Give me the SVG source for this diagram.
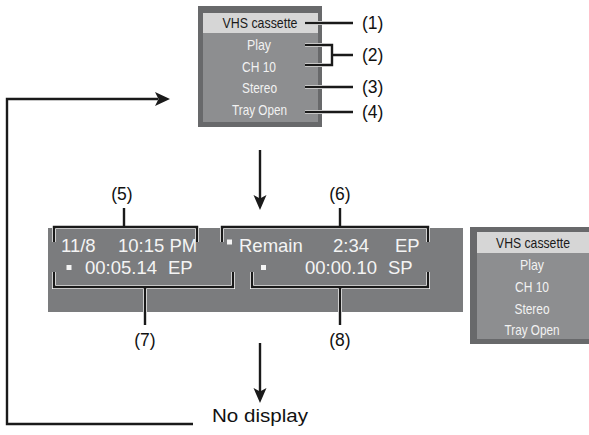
<svg xmlns="http://www.w3.org/2000/svg" width="589" height="435" viewBox="0 0 589 435">
<style>
.frame{fill:#68696b}
.body{fill:#8d8e90}
.head{fill:#d6d6d6}
.panel{fill:#7b7c7e}
.mt{font-family:"Liberation Sans Narrow","Liberation Sans",Arial,sans-serif;font-size:15px;fill:#f2f2f2;text-anchor:middle}
.mh{fill:#1a1a1a}
.pt{font-family:"Liberation Sans",Arial,sans-serif;font-size:18.5px;fill:#f4f4f4}
.lbl{font-family:"Liberation Sans",Arial,sans-serif;font-size:17.5px;fill:#111;text-anchor:middle}
.lbl2{font-family:"Liberation Sans",Arial,sans-serif;font-size:17.5px;fill:#111}
.halo{fill:none;stroke:#ffffff;stroke-width:4}
.ln{fill:none;stroke:#1a1a1a;stroke-width:2.4}
.blt{fill:#f4f4f4}
.ah{fill:#1a1a1a}
</style>

<g id="menu-top">
  <rect class="frame" x="198" y="6" width="124" height="121"/>
  <rect class="body" x="203" y="13" width="115" height="109"/>
  <rect class="head" x="203" y="13" width="115" height="20"/>
  <text class="mt mh" x="260" y="28" textLength="75" lengthAdjust="spacingAndGlyphs">VHS cassette</text>
  <text class="mt" x="259" y="50" textLength="24" lengthAdjust="spacingAndGlyphs">Play</text>
  <text class="mt" x="259" y="71.5" textLength="34" lengthAdjust="spacingAndGlyphs">CH 10</text>
  <text class="mt" x="259.5" y="93" textLength="35" lengthAdjust="spacingAndGlyphs">Stereo</text>
  <text class="mt" x="259.5" y="115" textLength="55" lengthAdjust="spacingAndGlyphs">Tray Open</text>
</g>

<g id="panel">
  <rect class="panel" x="48" y="228" width="415" height="84"/>
  <text class="pt" x="61" y="251.5">11/8</text>
  <text class="pt" x="118" y="251.5">10:15 PM</text>
  <rect class="blt" x="66.5" y="265" width="5" height="5"/>
  <text class="pt" x="85" y="274">00:05.14</text>
  <text class="pt" x="168" y="274">EP</text>
  <rect class="blt" x="227" y="239.5" width="5" height="5"/>
  <text class="pt" x="239" y="251.5">Remain</text>
  <text class="pt" x="333" y="251.5">2:34</text>
  <text class="pt" x="395" y="251.5">EP</text>
  <rect class="blt" x="261" y="265" width="5" height="5"/>
  <text class="pt" x="305" y="274">00:00.10</text>
  <text class="pt" x="388" y="274">SP</text>
</g>

<g id="menu-right">
  <rect class="frame" x="470" y="227" width="119" height="117"/>
  <rect class="body" x="477" y="232" width="112" height="107"/>
  <rect class="head" x="477" y="232" width="112" height="21"/>
  <text class="mt mh" x="533" y="248" textLength="74" lengthAdjust="spacingAndGlyphs">VHS cassette</text>
  <text class="mt" x="532" y="270" textLength="24" lengthAdjust="spacingAndGlyphs">Play</text>
  <text class="mt" x="532" y="292" textLength="34" lengthAdjust="spacingAndGlyphs">CH 10</text>
  <text class="mt" x="532" y="313.5" textLength="35" lengthAdjust="spacingAndGlyphs">Stereo</text>
  <text class="mt" x="532" y="335" textLength="55" lengthAdjust="spacingAndGlyphs">Tray Open</text>
</g>

<g id="no-display">
  <text class="lbl2" x="212" y="422" font-size="20" textLength="96" lengthAdjust="spacingAndGlyphs">No display</text>
</g>

<g id="labels">
  <text class="lbl2" x="362" y="29">(1)</text>
  <text class="lbl2" x="362" y="61">(2)</text>
  <text class="lbl2" x="362" y="93">(3)</text>
  <text class="lbl2" x="362" y="118">(4)</text>
  <text class="lbl" x="122" y="200">(5)</text>
  <text class="lbl" x="340" y="200">(6)</text>
  <text class="lbl" x="145" y="346">(7)</text>
  <text class="lbl" x="340" y="346">(8)</text>
</g>

<g id="connectors">
  <g class="halo">
    <path d="M305 23H353"/>
    <path d="M305 45H332V65H305M332 55H353"/>
    <path d="M305 87H353"/>
    <path d="M305 112H353"/>
    <path d="M54 242V227H197V242M124 227V208"/>
    <path d="M222 242V227H428V242M340 227V208"/>
    <path d="M54 272V287H233V272M145 287V325"/>
    <path d="M252 272V287H428V272M340 287V325"/>
  </g>
  <g class="ln">
    <path d="M305 23H353"/>
    <path d="M305 45H332V65H305M332 55H353"/>
    <path d="M305 87H353"/>
    <path d="M305 112H353"/>
    <path d="M54 242V227H197V242M124 227V208"/>
    <path d="M222 242V227H428V242M340 227V208"/>
    <path d="M54 272V287H233V272M145 287V325"/>
    <path d="M252 272V287H428V272M340 287V325"/>
    <path d="M260 150V200"/>
    <path d="M260 343V393"/>
    <path d="M193 424H7V99H158"/>
  </g>
  <path class="ah" d="M260 210L253.5 195L260 198.5L266.5 195Z"/>
  <path class="ah" d="M260 403L253.5 388L260 391.5L266.5 388Z"/>
  <path class="ah" d="M170 99L155 92L158.5 99L155 106Z"/>
</g>
</svg>
